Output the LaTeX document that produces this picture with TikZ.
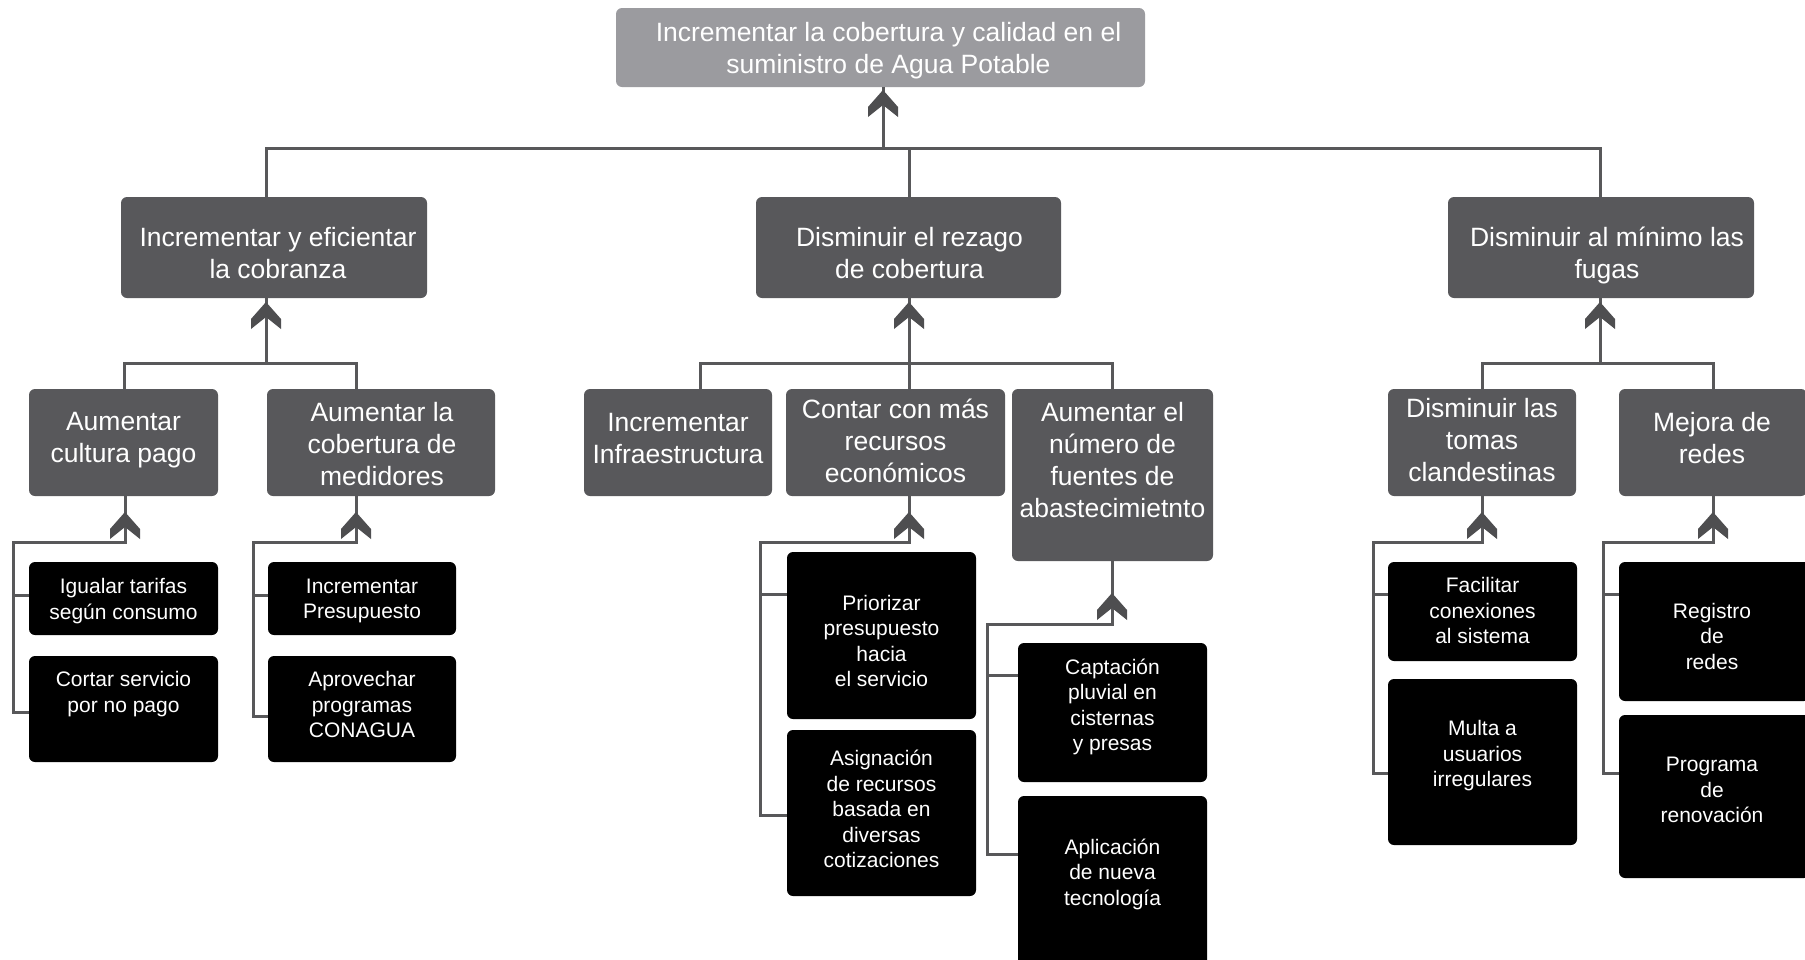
\documentclass[tikz,border=0pt]{standalone}
\usepackage{fontspec}
\setmainfont{Liberation Sans}
\definecolor{rootgray}{RGB}{155,155,159}
\definecolor{midgray}{RGB}{88,88,91}
\definecolor{linegray}{RGB}{88,88,90}
\definecolor{chevgray}{RGB}{78,78,80}
\tikzset{
  boxbase/.style={anchor=north west, inner sep=0pt, outer sep=0pt, rounded corners=6pt, draw=none},
  rootbox/.style={boxbase, fill=rootgray},
  midbox/.style={boxbase, fill=midgray},
  leafbox/.style={boxbase, fill=black},
  bigtext/.style={text=white, align=center, font=\fontsize{26.5}{32}\selectfont, inner sep=0pt},
  smalltext/.style={text=white, align=center, font=\fontsize{21}{25.5}\selectfont, inner sep=0pt},
  conn/.style={draw=linegray, line width=3pt, line join=miter},
}
\newcommand\mkbox[6]{%
  \pgfmathsetmacro\bxw{#5-#3}\pgfmathsetmacro\bxh{#6-#4}%
  \node[#2, minimum width=\bxw pt, minimum height=\bxh pt] (#1) at (#3,#4) {};}
\newcommand\chev[2]{\fill[chevgray] (#1,#2) -- ++(15,17) -- ++(0,10) -- ++(-15,-12) -- ++(-15,12) -- ++(0,-10) -- cycle;}
\begin{document}
\begin{tikzpicture}[x=1pt,y=-1pt]
\useasboundingbox (0,0) rectangle (1805,959);
\clip (0,0) rectangle (1805,959);
\fill[white] (0,0) rectangle (1805,959);

% boxes
\mkbox{root}{rootbox}{616}{8}{1145}{87}
\mkbox{A}{midbox}{121}{197}{427}{298}
\mkbox{B}{midbox}{756}{197}{1061}{298}
\mkbox{C}{midbox}{1448}{197}{1754}{298}
\mkbox{A1}{midbox}{29}{389}{218}{496}
\mkbox{A2}{midbox}{267}{389}{495}{496}
\mkbox{B1}{midbox}{584}{389}{772}{496}
\mkbox{B2}{midbox}{786}{389}{1005}{496}
\mkbox{B3}{midbox}{1012}{389}{1213}{561}
\mkbox{C1}{midbox}{1388}{389}{1576}{496}
\mkbox{C2}{midbox}{1619}{389}{1807}{496}
\mkbox{A11}{leafbox}{29}{562}{218}{635}
\mkbox{A12}{leafbox}{29}{656}{218}{762}
\mkbox{A21}{leafbox}{268}{562}{456}{635}
\mkbox{A22}{leafbox}{268}{656}{456}{762}
\mkbox{B21}{leafbox}{787}{552}{976}{719}
\mkbox{B22}{leafbox}{787}{730}{976}{896}
\mkbox{B31}{leafbox}{1018}{643}{1207}{782}
\mkbox{B32}{leafbox}{1018}{796}{1207}{968}
\mkbox{C11}{leafbox}{1388}{562}{1577}{661}
\mkbox{C12}{leafbox}{1388}{679}{1577}{845}
\mkbox{C21}{leafbox}{1619}{562}{1810}{701}
\mkbox{C22}{leafbox}{1619}{715}{1810}{878}

% texts
\node[bigtext] (roott) at (888.5,51) {Incrementar la cobertura y calidad en el\\suministro de Agua Potable};
\node[bigtext] (At) at (278,253) {Incrementar y eficientar\\la cobranza};
\node[bigtext] (Bt) at (909.5,253) {Disminuir el rezago\\de cobertura};
\node[bigtext] (Ct) at (1607,255) {Disminuir al mínimo las\\fugas};
\node[bigtext] (A1t) at (123.5,440) {Aumentar\\cultura pago};
\node[bigtext] (A2t) at (382,444) {Aumentar la\\cobertura de\\medidores};
\node[bigtext] (B1t) at (678,439) {Incrementar\\Infraestructura};
\node[bigtext] (B2t) at (895.5,441) {Contar con más\\recursos\\económicos};
\node[bigtext] (B3t) at (1112.5,460) {Aumentar el\\número de\\fuentes de\\abastecimietnto};
\node[bigtext] (C1t) at (1482,440) {Disminuir las\\tomas\\clandestinas};
\node[bigtext] (C2t) at (1712,438) {Mejora de\\redes};
\node[smalltext] (A11t) at (123.5,601) {Igualar tarifas\\según consumo};
\node[smalltext] (A12t) at (123.5,694) {Cortar servicio\\por no pago};
\node[smalltext] (A21t) at (362,601) {Incrementar\\Presupuesto};
\node[smalltext] (A22t) at (362,704.5) {Aprovechar\\programas\\CONAGUA};
\node[smalltext] (B21t) at (881.5,641) {Priorizar\\presupuesto\\hacia\\el servicio};
\node[smalltext] (B22t) at (881.5,809) {Asignación\\de recursos\\basada en\\diversas\\cotizaciones};
\node[smalltext] (B31t) at (1112.5,707) {Captación\\pluvial en\\cisternas\\y presas};
\node[smalltext] (B32t) at (1112.5,874) {Aplicación\\de nueva\\tecnología};
\node[smalltext] (C11t) at (1482.5,610.5) {Facilitar\\conexiones\\al sistema};
\node[smalltext] (C12t) at (1482.5,756) {Multa a\\usuarios\\irregulares};
\node[smalltext] (C21t) at (1712,636) {Registro\\de\\redes};
\node[smalltext] (C22t) at (1712,790) {Programa\\de\\renovación};

% level 1 -> 2
\coordinate (j0) at (883,148);
\coordinate (hA) at (266,148);
\coordinate (hB) at (909,148);
\coordinate (hC) at (1600,148);
\draw[conn] (j0) -- (j0 |- root.south);
\draw[conn] (hA |- A.north) -- (hA) -- (hC) -- (hC |- C.north);
\draw[conn] (hB) -- (hB |- B.north);
\chev{883}{90}

% level 2 -> 3
\coordinate (jA) at (266,363);
\coordinate (jA1) at (124,363);
\coordinate (jA2) at (356,363);
\draw[conn] (jA) -- (jA |- A.south);
\draw[conn] (jA1 |- A1.north) -- (jA1) -- (jA2) -- (jA2 |- A2.north);
\chev{266}{302}

\coordinate (jB) at (909,363);
\coordinate (jB1) at (700,363);
\coordinate (jB3) at (1112,363);
\draw[conn] (jB |- B.south) -- (jB |- B2.north);
\draw[conn] (jB1 |- B1.north) -- (jB1) -- (jB3) -- (jB3 |- B3.north);
\chev{909}{302}

\coordinate (jC) at (1600,363);
\coordinate (jC1) at (1482,363);
\coordinate (jC2) at (1713,363);
\draw[conn] (jC) -- (jC |- C.south);
\draw[conn] (jC1 |- C1.north) -- (jC1) -- (jC2) -- (jC2 |- C2.north);
\chev{1600}{302}

% level 3 -> 4 : A1
\coordinate (kA1) at (125,542);
\coordinate (tA1) at (13,542);
\coordinate (bA11) at (13,595);
\coordinate (bA12) at (13,712);
\draw[conn] (kA1 |- A1.south) -- (kA1) -- (tA1) -- (bA12) -- (bA12 -| A12.west);
\draw[conn] (bA11) -- (bA11 -| A11.west);
\chev{125}{512}

% A2
\coordinate (kA2) at (356,542);
\coordinate (tA2) at (253,542);
\coordinate (bA21) at (253,595);
\coordinate (bA22) at (253,716);
\draw[conn] (kA2 |- A2.south) -- (kA2) -- (tA2) -- (bA22) -- (bA22 -| A22.west);
\draw[conn] (bA21) -- (bA21 -| A21.west);
\chev{356}{512}

% B2
\coordinate (kB2) at (909,542);
\coordinate (tB2) at (760,542);
\coordinate (bB21) at (760,594);
\coordinate (bB22) at (760,815);
\draw[conn] (kB2 |- B2.south) -- (kB2) -- (tB2) -- (bB22) -- (bB22 -| B22.west);
\draw[conn] (bB21) -- (bB21 -| B21.west);
\chev{909}{512}

% B3
\coordinate (kB3) at (1112,624);
\coordinate (tB3) at (987,624);
\coordinate (bB31) at (987,675);
\coordinate (bB32) at (987,854);
\draw[conn] (kB3 |- B3.south) -- (kB3) -- (tB3) -- (bB32) -- (bB32 -| B32.west);
\draw[conn] (bB31) -- (bB31 -| B31.west);
\chev{1112}{593}

% C1
\coordinate (kC1) at (1482,542);
\coordinate (tC1) at (1373,542);
\coordinate (bC11) at (1373,594);
\coordinate (bC12) at (1373,773);
\draw[conn] (kC1 |- C1.south) -- (kC1) -- (tC1) -- (bC12) -- (bC12 -| C12.west);
\draw[conn] (bC11) -- (bC11 -| C11.west);
\chev{1482}{512}

% C2
\coordinate (kC2) at (1713,542);
\coordinate (tC2) at (1603,542);
\coordinate (bC21) at (1603,594);
\coordinate (bC22) at (1603,773);
\draw[conn] (kC2 |- C2.south) -- (kC2) -- (tC2) -- (bC22) -- (bC22 -| C22.west);
\draw[conn] (bC21) -- (bC21 -| C21.west);
\chev{1713}{512}
\end{tikzpicture}
\end{document}
